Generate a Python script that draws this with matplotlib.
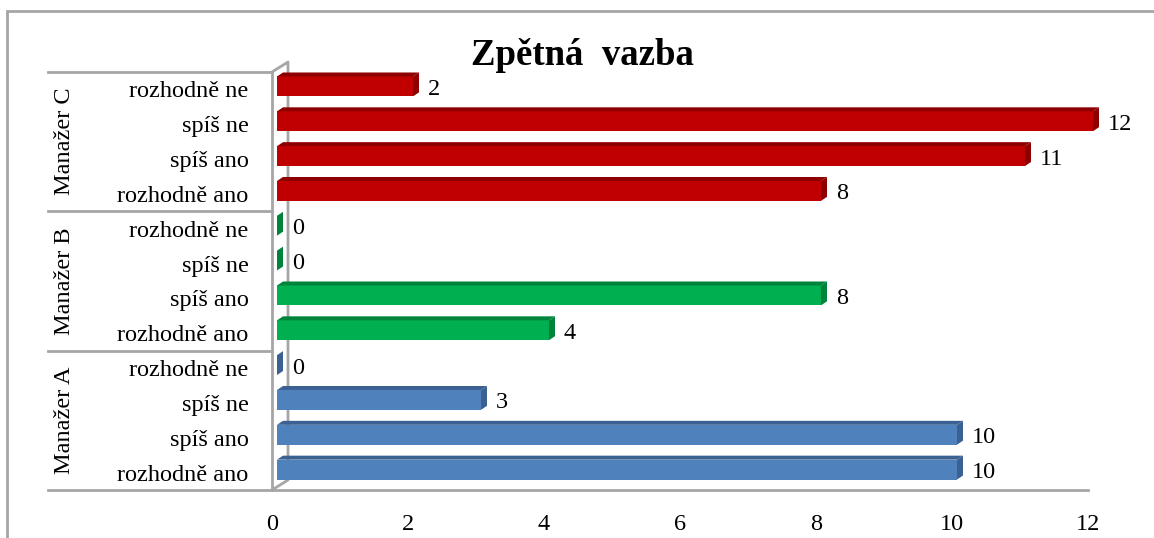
import matplotlib
matplotlib.use("Agg")
import matplotlib.pyplot as plt
import matplotlib.transforms as mtransforms
from matplotlib.patches import Polygon, Rectangle

## Data

manazeri = ["Manažer A", "Manažer B", "Manažer C"]
odpovedi = ["rozhodně ano", "spíš ano", "spíš ne", "rozhodně ne"]
manazer_a = [10, 10, 3, 0]
manazer_b = [4, 8, 0, 0]
manazer_c = [8, 11, 12, 2]
x_ticks = [0, 2, 4, 6, 8, 10, 12]

barvy = ["#4F81BD", "#00B050", "#C00000"]
tmave = ["#3B6192", "#00843C", "#8E0000"]
seda = "#A6A6A6"

plt.rcParams["font.family"] = ["Liberation Serif", "DejaVu Serif"]
fs = 17.5

## Figure

W, H = 1154, 538
fig = plt.figure(figsize=(W / 100, H / 100), dpi=100)
ax = fig.add_axes([272 / W, (H - 490) / H, 816 / W, 418 / H])
ax.set_xlim(0, 12)
ax.set_ylim(-0.5, 11.5)

hodnoty = manazer_a + manazer_b + manazer_c
barva_list = [barvy[i // 4] for i in range(12)]
tmava_list = [tmave[i // 4] for i in range(12)]
y = list(range(12))

# pixel na jednotku, pro "3D" hloubku
px_x = 816 / 12
px_y = 418 / 12
ddx = 6 / px_x
ddy = 4 / px_y
h = 0.57

# sloupce posunute trochu dozadu (3D efekt)
trans = mtransforms.offset_copy(ax.transData, fig=fig, x=5, y=3, units="dots")
bars = ax.barh(y, hodnoty, height=h, color=barva_list, linewidth=0, zorder=3)
for b in bars:
    b.set_transform(trans)
    b.set_clip_on(False)

for yi, v, c in zip(y, hodnoty, tmava_list):
    y0 = yi - h / 2
    y1 = yi + h / 2
    if v > 0:
        top = Polygon([(0, y1), (v, y1), (v + ddx, y1 + ddy), (ddx, y1 + ddy)],
                      closed=True, color=c, lw=0, transform=trans, clip_on=False, zorder=3)
        ax.add_patch(top)
    side = Polygon([(v, y0), (v, y1), (v + ddx, y1 + ddy), (v + ddx, y0 + ddy)],
                   closed=True, color=c, lw=0, transform=trans, clip_on=False, zorder=3)
    ax.add_patch(side)
    ax.annotate(str(v), (v, yi), xytext=(20, 0), textcoords="offset pixels",
                ha="left", va="center", fontsize=fs)

# osy
for s in ax.spines.values():
    s.set_visible(False)
ax.set_xticks(x_ticks)
ax.set_xticklabels([str(t) for t in x_ticks], fontsize=fs)
ax.set_yticks(y)
ax.set_yticklabels(odpovedi * 3, fontsize=fs)
ax.tick_params(axis="x", length=0, pad=17)
ax.tick_params(axis="y", length=0, pad=17)

levy = (48 - 272) / 816
lw = 2
ax.plot([levy, 1], [0, 0], transform=ax.transAxes, clip_on=False, color=seda, lw=lw, zorder=1)
for g in [4, 8, 12]:
    ax.plot([levy, 0], [g / 12, g / 12], transform=ax.transAxes, clip_on=False, color=seda, lw=lw, zorder=1)
ax.plot([0, 0], [0, 1], transform=ax.transAxes, clip_on=False, color=seda, lw=lw, zorder=1)

# zadni stena
sx = 16 / 816
sy = 10 / 418
ax.plot([0, sx, sx, 0], [1, 1 + sy, sy, 0], transform=ax.transAxes,
        clip_on=False, color=seda, lw=lw, zorder=1)

# popisky manazeru
blend = mtransforms.blended_transform_factory(ax.transAxes, ax.transData)
for i, m in enumerate(manazeri):
    ax.text((65 - 272) / 816, 4 * i + 1.5, m, rotation=90, ha="center", va="center",
            fontsize=fs, transform=blend)

fig.text(582 / W, (H - 65) / H, "Zpětná  vazba", ha="center", va="baseline",
         fontsize=26.5, fontweight="bold")

fig.add_artist(Rectangle((7 / W, -0.1), 1.2, (H - 11) / H + 0.1, transform=fig.transFigure,
                         fill=False, edgecolor=seda, lw=2))

fig.savefig("out.png", dpi=100)
